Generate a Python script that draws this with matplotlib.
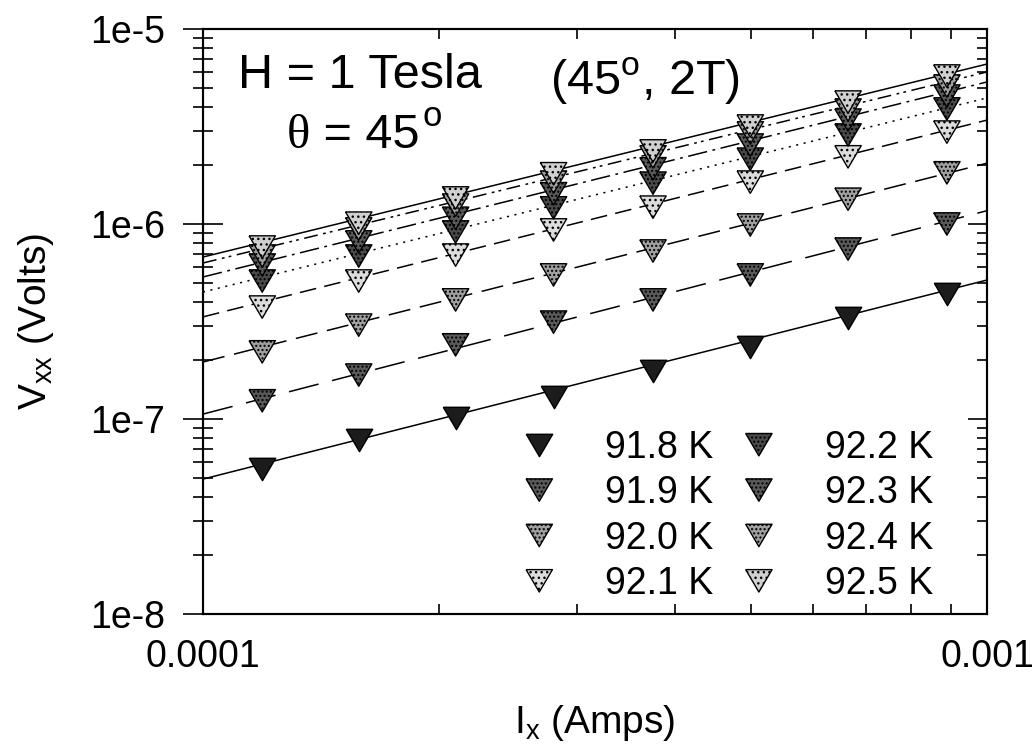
import matplotlib.pyplot as plt
import numpy as np
from matplotlib.ticker import FixedLocator, FixedFormatter, LogLocator, NullFormatter

plt.rcParams['font.family'] = ['Liberation Sans', 'DejaVu Sans']
plt.rcParams['mathtext.fontset'] = 'custom'
plt.rcParams['mathtext.rm'] = 'Liberation Sans'
plt.rcParams['lines.scale_dashes'] = False
plt.rcParams['hatch.linewidth'] = 1.0
plt.rcParams['hatch.color'] = 'black'

# current through the sample (A)
current = np.array([1.19e-4, 1.58e-4, 2.10e-4, 2.80e-4, 3.75e-4, 4.99e-4, 6.65e-4, 8.89e-4])

# measured V_xx (V) at each temperature
v_918 = [5.54e-8, 7.80e-8, 1.01e-7, 1.30e-7, 1.76e-7, 2.34e-7, 3.30e-7, 4.38e-7]
v_919 = [1.24e-7, 1.68e-7, 2.40e-7, 3.14e-7, 4.08e-7, 5.48e-7, 7.44e-7, 1.00e-6]
v_920 = [2.21e-7, 3.03e-7, 4.08e-7, 5.48e-7, 7.27e-7, 9.88e-7, 1.34e-6, 1.83e-6]
v_921 = [3.75e-7, 5.10e-7, 6.93e-7, 9.32e-7, 1.22e-6, 1.64e-6, 2.21e-6, 2.96e-6]
v_922 = [5.10e-7, 6.85e-7, 9.10e-7, 1.21e-6, 1.62e-6, 2.15e-6, 2.86e-6, 3.89e-6]
v_923 = [6.16e-7, 8.09e-7, 1.07e-6, 1.43e-6, 1.92e-6, 2.54e-6, 3.41e-6, 4.53e-6]
v_924 = [6.85e-7, 9.43e-7, 1.25e-6, 1.64e-6, 2.21e-6, 2.93e-6, 3.84e-6, 5.10e-6]
v_925 = [7.62e-7, 1.01e-6, 1.36e-6, 1.81e-6, 2.37e-6, 3.18e-6, 4.22e-6, 5.74e-6]

# power-law fit lines, evaluated at the two ends of the current axis
fit_current = [1e-4, 1e-3]
fit_918 = [4.92e-8, 5.16e-7]
fit_919 = [1.06e-7, 1.17e-6]
fit_920 = [1.96e-7, 2.05e-6]
fit_921 = [3.34e-7, 3.41e-6]
fit_922 = [4.48e-7, 4.43e-6]
fit_923 = [5.35e-7, 5.35e-6]
fit_924 = [6.31e-7, 6.02e-6]
fit_925 = [6.77e-7, 6.61e-6]

labels = ['91.8 K', '91.9 K', '92.0 K', '92.1 K', '92.2 K', '92.3 K', '92.4 K', '92.5 K']
voltages = [v_918, v_919, v_920, v_921, v_922, v_923, v_924, v_925]
fits = [fit_918, fit_919, fit_920, fit_921, fit_922, fit_923, fit_924, fit_925]

x_ticks = [1e-4, 1e-3]
x_ticklabels = ['0.0001', '0.001']
y_ticks = [1e-8, 1e-7, 1e-6, 1e-5]
y_ticklabels = ['1e-8', '1e-7', '1e-6', '1e-5']

# marker fill / stipple and fit line dashes for each temperature
faces = ['#1c1c1c', '#5a5a5a', '#a0a0a0', '#dcdcdc', '#4a4a4a', '#5a5a5a', '#a0a0a0', '#d0d0d0']
hatches = [None, '....', '....', '...', '....', '....', '....', '...']
dashes = [
    (0, ()),
    (0, (22, 10)),
    (0, (16, 7)),
    (0, (12, 6)),
    (0, (1.5, 4)),
    (0, (14, 4, 2, 4)),
    (0, (10, 4, 2, 3, 2, 4)),
    (0, ()),
]

tri = [(-1.0, 0.85), (1.0, 0.85), (0.0, -0.85), (-1.0, 0.85)]

fig = plt.figure(figsize=(10.34, 7.49), dpi=100)
ax = fig.add_axes([0.1963, 0.1802, 0.7582, 0.7811])

for lab, v, fit, fc, h, ls in zip(labels, voltages, fits, faces, hatches, dashes):
    ax.plot(fit_current, fit, color='black', lw=1.1, linestyle=ls, zorder=2)
    ax.scatter(current, v, marker=tri, s=19 ** 2, facecolor=fc, edgecolor='black',
               linewidths=1.0, hatch=h, zorder=3, label=lab)

ax.set_xscale('log')
ax.set_yscale('log')
ax.set_xlim(1e-4, 1e-3)
ax.set_ylim(1e-8, 1e-5)

ax.xaxis.set_major_locator(FixedLocator(x_ticks))
ax.xaxis.set_major_formatter(FixedFormatter(x_ticklabels))
ax.xaxis.set_minor_locator(LogLocator(base=10, subs=np.arange(2, 10)))
ax.xaxis.set_minor_formatter(NullFormatter())
ax.yaxis.set_major_locator(FixedLocator(y_ticks))
ax.yaxis.set_major_formatter(FixedFormatter(y_ticklabels))
ax.yaxis.set_minor_locator(LogLocator(base=10, subs=np.arange(2, 10)))
ax.yaxis.set_minor_formatter(NullFormatter())

ax.tick_params(axis='x', which='both', direction='in', top=True, labelsize=27, pad=18)
ax.tick_params(axis='x', which='major', length=14, width=1.2)
ax.tick_params(axis='x', which='minor', length=7, width=1.2)
ax.tick_params(axis='y', which='both', direction='inout', right=False, labelsize=27, pad=13)
ax.tick_params(axis='y', which='major', length=29, width=1.2)
ax.tick_params(axis='y', which='minor', length=14, width=1.2)

# right-hand axis carries only inward ticks
ax_r = ax.twinx()
ax_r.set_yscale('log')
ax_r.set_ylim(ax.get_ylim())
ax_r.yaxis.set_major_locator(FixedLocator(y_ticks))
ax_r.yaxis.set_minor_locator(LogLocator(base=10, subs=np.arange(2, 10)))
ax_r.yaxis.set_major_formatter(NullFormatter())
ax_r.yaxis.set_minor_formatter(NullFormatter())
ax_r.tick_params(axis='y', which='both', direction='in')
ax_r.tick_params(axis='y', which='major', length=14, width=1.2)
ax_r.tick_params(axis='y', which='minor', length=7, width=1.2)

for a in (ax, ax_r):
    for sp in a.spines.values():
        sp.set_linewidth(1.5)

ax.set_xlabel(r'I$_{\mathrm{x}}$ (Amps)', fontsize=28, labelpad=20)
ax.set_ylabel(r'V$_{\mathrm{xx}}$ (Volts)', fontsize=28, labelpad=24)

ax.text(0.045, 0.899, 'H = 1 Tesla', transform=ax.transAxes, fontsize=35, va='baseline')

# theta in a serif face, the rest of the line chained after it
theta = ax.text(0.107, 0.797, 'θ', transform=ax.transAxes, fontsize=35,
                va='baseline', family='Liberation Serif')
angle = ax.annotate(' = 45', xy=(1, 0), xycoords=theta, fontsize=35, va='bottom')
ax.annotate('o', xy=(1, 1), xycoords=angle, xytext=(2, 9), textcoords='offset points',
            fontsize=25, va='top')

ax.text(0.443, 0.887, r'(45$^{\mathrm{o}}$, 2T)', transform=ax.transAxes,
        fontsize=35, va='baseline')

ax.legend(ncol=2, loc='lower right', bbox_to_anchor=(0.950, -0.005), frameon=False,
          fontsize=27, scatterpoints=1, scatteryoffsets=[0.5], handlelength=1.0,
          handletextpad=1.25, columnspacing=0.72, labelspacing=0.25, borderaxespad=0.0)

fig.savefig('out.png', dpi=100)
